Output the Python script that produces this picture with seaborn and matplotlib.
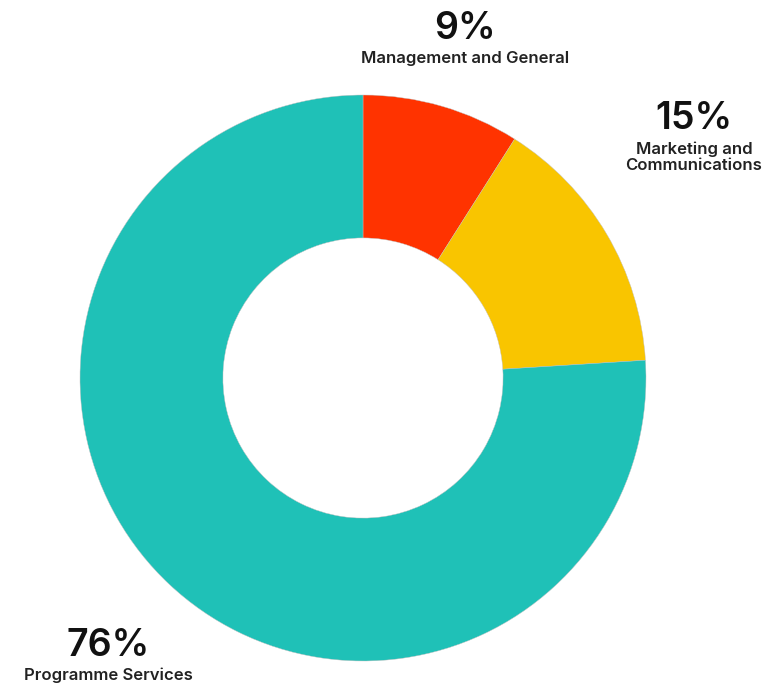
import numpy as np
import seaborn as sns
import matplotlib.pyplot as plt

categories = ["Management and General", "Marketing and\nCommunications", "Programme Services"]
shares = [9, 15, 76]
pct_labels = ["9%", "15%", "76%"]
colours = ["#FF3300", "#F9C500", "#1FC1B7"]

sns.set_theme(style="white")
plt.rcParams["font.family"] = ["Inter", "DejaVu Sans"]

W, H = 764, 683
fig = plt.figure(figsize=(W / 100, H / 100), dpi=100)
fig.patch.set_facecolor("white")

# donut centre (363, 378) px, outer radius 283 px
cx, cy, r = 363, 378, 283
ax = fig.add_axes([(cx - r) / W, (H - cy - r) / H, 2 * r / W, 2 * r / H])
ax.pie(shares, colors=sns.color_palette(colours), startangle=90, counterclock=False,
       radius=1, wedgeprops=dict(width=0.505, edgecolor="#c0c0c0", linewidth=0.3))
ax.set_xlim(-1, 1)
ax.set_ylim(-1, 1)
ax.axis("off")

# label positions in px (centre x, y of pct, y of name)
label_pos = [(465, 29, 59), (694, 119, 157), (108, 646, 675)]
for (x, y1, y2), p, name in zip(label_pos, pct_labels, categories):
    fig.text(x / W, 1 - y1 / H, p, ha="center", va="center", fontsize=27,
             fontweight="semibold", color="#111111")
    fig.text(x / W, 1 - y2 / H, name, ha="center", va="center", fontsize=12,
             fontweight="semibold", color="#222222", linespacing=1.05)

fig.savefig("out.png", dpi=100, facecolor="white")
